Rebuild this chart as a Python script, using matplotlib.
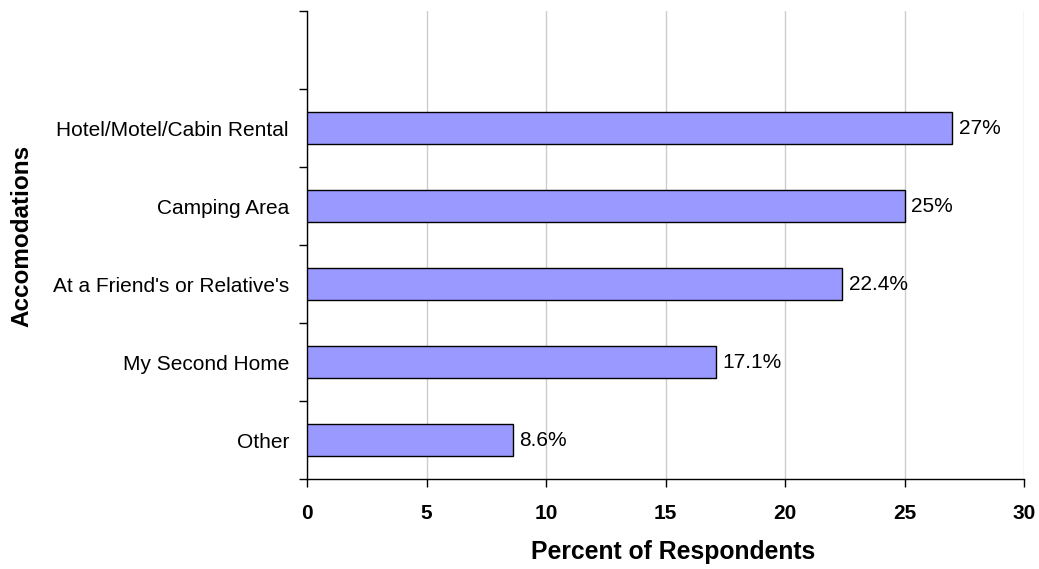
import matplotlib
matplotlib.use("Agg")
import matplotlib.pyplot as plt

plt.rcParams['font.family'] = ['Liberation Sans', 'DejaVu Sans']

categories = ["Other", "My Second Home", "At a Friend's or Relative's", "Camping Area", "Hotel/Motel/Cabin Rental", ""]
values = [8.6, 17.1, 22.4, 25, 27, None]
value_labels = ["8.6%", "17.1%", "22.4%", "25%", "27%", ""]
xticks = [0, 5, 10, 15, 20, 25, 30]

fig = plt.figure(figsize=(10.39, 5.69), dpi=100)
ax = fig.add_axes([307/1039, 1 - 479/569, (1024 - 307)/1039, (479 - 11)/569])

ypos = list(range(len(categories)))
for y, v, lab in zip(ypos, values, value_labels):
    if v is None:
        continue
    ax.barh(y, v, height=0.41, color='#9999FF', edgecolor='black', linewidth=1.0, zorder=3)
    ax.annotate(lab, xy=(v, y), xytext=(5, 0), textcoords='offset points',
                va='center', ha='left', fontsize=15, zorder=4)

ax.set_xlim(0, 30)
ax.set_ylim(-0.5, len(categories) - 0.5)
ax.set_xticks(xticks)
ax.set_xticklabels([str(t) for t in xticks], fontsize=15, fontweight='bold')
ax.set_yticks(ypos)
ax.set_yticklabels(categories, fontsize=15)
ax.set_yticks([i - 0.5 for i in range(len(categories) + 1)], minor=True)
ax.tick_params(axis='y', which='major', length=0, pad=13)
ax.tick_params(axis='y', which='minor', length=6, width=1, direction='out')
ax.tick_params(axis='x', which='major', length=6, width=1, direction='out', pad=12)

ax.grid(axis='x', color='#cccccc', linewidth=1, zorder=0)
ax.set_axisbelow(True)
for s in ['top', 'right']:
    ax.spines[s].set_visible(False)
ax.spines['left'].set_linewidth(1)
ax.spines['bottom'].set_linewidth(1)

ax.set_xlabel("Percent of Respondents", fontsize=17.8, fontweight='bold')
ax.set_ylabel("Accomodations", fontsize=17.5, fontweight='bold')
ax.xaxis.set_label_coords((673 - 307) / (1024 - 307), -(540 - 479) / (479 - 11))
ax.yaxis.set_label_coords((33 - 307) / (1024 - 307), (479 - 236) / (479 - 11))

fig.savefig("out.png", dpi=100)
